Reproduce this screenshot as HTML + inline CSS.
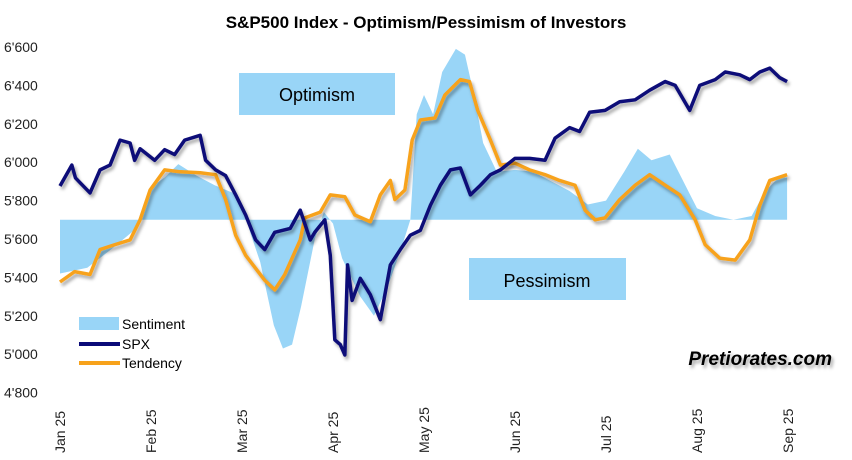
<!DOCTYPE html>
<html><head><meta charset="utf-8"><style>
body{margin:0;background:#fff}
svg{display:block;font-family:"Liberation Sans",sans-serif}
</style></head><body>
<svg id="c" width="852" height="460" viewBox="0 0 852 460">
<defs><filter id="sh" x="-5%" y="-5%" width="110%" height="120%"><feDropShadow dx="2" dy="3" stdDeviation="1.5" flood-color="#000" flood-opacity="0.35"/></filter></defs>
<text x="426" y="28" text-anchor="middle" font-size="17" font-weight="bold">S&amp;P500 Index - Optimism/Pessimism of Investors</text>
<g id="yaxis"></g>
<g id="xaxis"></g>
<g id="plot"></g>
<rect x="239" y="73" width="156" height="42" fill="#99d5f7"/>
<text x="317" y="101" text-anchor="middle" font-size="18">Optimism</text>
<rect x="469" y="258" width="157" height="42" fill="#99d5f7"/>
<text x="547" y="287" text-anchor="middle" font-size="18">Pessimism</text>
<g>
<rect x="79" y="317" width="40" height="13" fill="#99d5f7"/>
<text x="122" y="329" font-size="14">Sentiment</text>
<line x1="79" y1="344" x2="120" y2="344" stroke="#0a0a78" stroke-width="4"/>
<text x="122" y="349" font-size="14">SPX</text>
<line x1="79" y1="363" x2="120" y2="363" stroke="#f7a21b" stroke-width="4"/>
<text x="122" y="368" font-size="14">Tendency</text>
</g>
<text x="832" y="365" text-anchor="end" font-size="19" font-weight="bold" font-style="italic" filter="url(#sh)">Pretiorates.com</text>
</svg>
<script>
const yTicks=[4800,5000,5200,5400,5600,5800,6000,6200,6400,6600];
const yTickLabels=["4'800","5'000","5'200","5'400","5'600","5'800","6'000","6'200","6'400","6'600"];
const months=["Jan 25","Feb 25","Mar 25","Apr 25","May 25","Jun 25","Jul 25","Aug 25","Sep 25"];
const baseline=5700;
const spxT=[0,.13,.17,.33,.44,.55,.66,.77,.82,.88,1.04,1.15,1.26,1.37,1.54,1.6,1.71,1.82,1.93,2.04,2.15,2.25,2.36,2.53,2.64,2.75,2.8,2.91,2.97,3.02,3.08,3.13,3.16,3.21,3.3,3.41,3.52,3.63,3.74,3.85,3.96,4.07,4.18,4.29,4.4,4.51,4.62,4.73,4.84,5.0,5.16,5.33,5.44,5.6,5.71,5.82,5.99,6.15,6.32,6.48,6.65,6.76,6.92,7.03,7.2,7.31,7.47,7.58,7.69,7.8,7.91,7.99];
const spxV=[5876,5985,5918,5840,5960,5985,6115,6100,6010,6070,6010,6065,6040,6115,6140,6010,5960,5930,5830,5725,5595,5545,5635,5655,5750,5595,5635,5700,5515,5075,5050,4996,5465,5280,5395,5310,5180,5465,5545,5620,5645,5775,5880,5960,5970,5830,5880,5935,5960,6020,6020,6010,6125,6180,6160,6260,6270,6315,6325,6375,6420,6400,6270,6400,6430,6470,6455,6430,6470,6490,6440,6420];
const tenT=[0,.16,.33,.44,.6,.77,.88,.99,1.15,1.32,1.54,1.71,1.82,1.93,2.04,2.25,2.36,2.47,2.64,2.69,2.86,2.97,3.13,3.24,3.41,3.52,3.63,3.68,3.79,3.87,3.96,4.12,4.23,4.4,4.5,4.59,4.73,4.84,5.0,5.16,5.33,5.49,5.66,5.77,5.88,5.99,6.15,6.32,6.48,6.65,6.81,6.98,7.09,7.25,7.42,7.58,7.69,7.8,7.99];
const tenV=[5376,5430,5415,5545,5570,5595,5700,5855,5960,5950,5945,5935,5805,5620,5515,5385,5335,5415,5595,5710,5740,5830,5820,5725,5690,5830,5905,5805,5855,6115,6220,6230,6350,6430,6420,6270,6115,5985,5995,5960,5935,5905,5880,5750,5700,5710,5805,5880,5935,5880,5830,5700,5570,5500,5490,5595,5775,5905,5935];
const senT=[0,.3,.6,.8,.9,1.0,1.15,1.3,1.5,1.7,1.9,2.0,2.1,2.2,2.35,2.45,2.55,2.65,2.8,2.9,3.0,3.1,3.3,3.45,3.6,3.75,3.85,3.92,4.0,4.1,4.2,4.35,4.45,4.55,4.65,4.8,5.0,5.2,5.4,5.6,5.8,6.0,6.2,6.35,6.5,6.7,6.85,7.0,7.2,7.4,7.6,7.75,7.9,7.99];
const senV=[5420,5450,5560,5640,5720,5870,5920,5990,5930,5880,5840,5780,5620,5480,5150,5030,5050,5250,5600,5740,5680,5500,5300,5200,5350,5550,5700,6250,6350,6250,6470,6590,6560,6350,6100,5950,5960,5950,5900,5850,5780,5800,5950,6070,6010,6040,5900,5760,5720,5700,5720,5850,5920,5920];
const NS="http://www.w3.org/2000/svg";
const X=m=>60+m*91, Y=v=>47+(6600-v)/200*38.4;
function mk(t,a,p){const e=document.createElementNS(NS,t);for(const k in a)e.setAttribute(k,a[k]);p.appendChild(e);return e;}
const ya=document.getElementById('yaxis'),xa=document.getElementById('xaxis'),pl=document.getElementById('plot');
yTicks.forEach((v,i)=>{const t=mk('text',{x:4,y:Y(v)+5,'font-size':14,fill:'#222'},ya);t.textContent=yTickLabels[i];

});
months.forEach((m,i)=>{const t=mk('text',{transform:`translate(${X(i)+5},453) rotate(-90)`,'font-size':14,fill:'#222'},xa);t.textContent=m;

});
let d=`M${X(senT[0])},${Y(baseline)}`;senT.forEach((t,i)=>d+=`L${X(t)},${Y(senV[i])}`);d+=`L${X(senT[senT.length-1])},${Y(baseline)}Z`;
const a=mk('path',{d:d,fill:'#99d5f7'},pl);


function line(T,V,c,n){const p=mk('path',{d:T.map((t,i)=>(i?'L':'M')+X(t)+','+Y(V[i])).join(''),fill:'none',stroke:c,'stroke-width':3.5,'stroke-linejoin':'round',filter:'url(#sh)'},pl);

}
line(tenT,tenV,'#f7a21b','tendency-line');
line(spxT,spxV,'#0a0a78','spx-line');
</script>
</body></html>
